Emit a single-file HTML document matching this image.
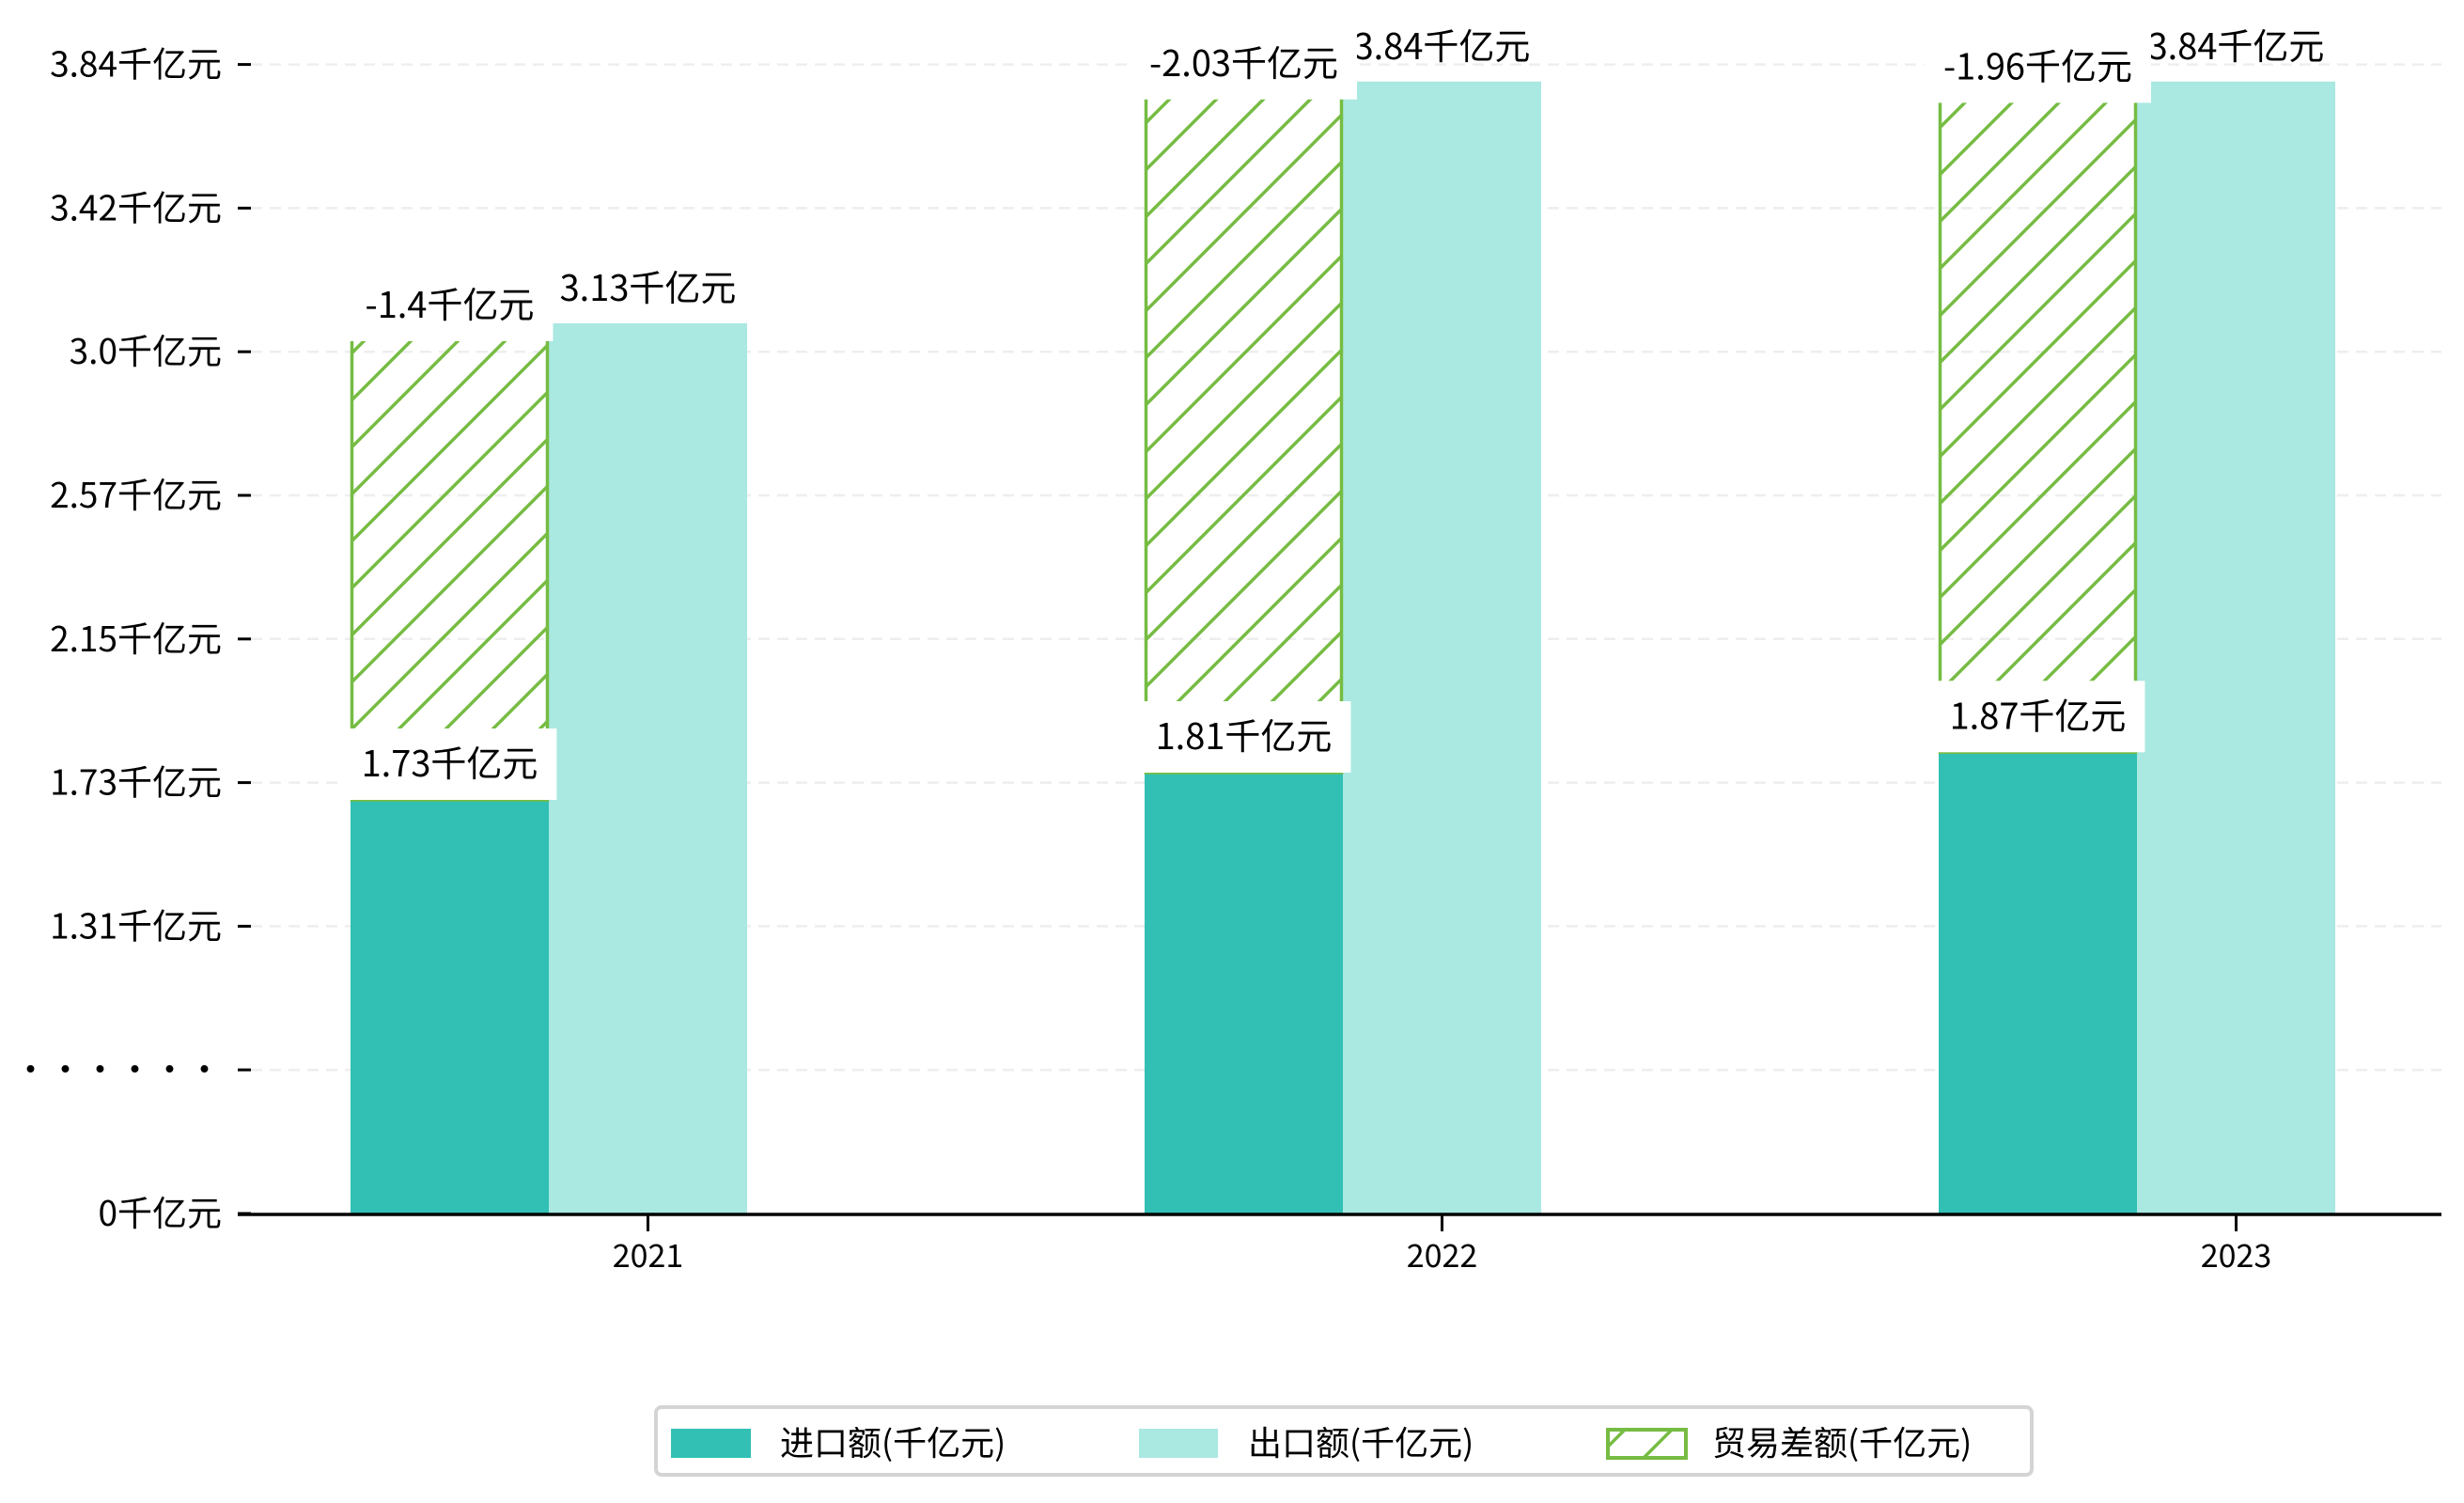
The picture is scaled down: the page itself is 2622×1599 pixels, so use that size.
<!DOCTYPE html>
<html><head><meta charset="utf-8">
<style>
html,body{margin:0;padding:0;background:#fff;}
svg{display:block;font-family:"WenQuanYi Zen Hei","Noto Sans CJK SC",sans-serif;}
</style></head>
<body>
<svg id="chart" width="2622" height="1599" viewBox="0 0 2622 1599" xmlns="http://www.w3.org/2000/svg">
<defs>
<pattern id="hatch" patternUnits="userSpaceOnUse" width="50" height="50" patternTransform="rotate(0)">
<path d="M-5,5 L5,-5 M0,50 L50,0 M45,55 L55,45" stroke="#76bc43" stroke-width="3.5"/>
</pattern>
</defs>
<g id="grid"></g>
<g id="bars"></g>
<g id="labels"></g>
<g id="axes"></g>
<g id="legend">
<rect x="698" y="1497" width="1464" height="72" rx="6" fill="#fff" stroke="#d4d4d4" stroke-width="4"/>
<rect x="714" y="1520" width="85" height="31" fill="#31c0b3"/>
<text x="830" y="1548" font-size="36">进口额(千亿元)</text>
<rect x="1212" y="1520" width="84" height="31" fill="#aae8e2"/>
<text x="1328" y="1548" font-size="36">出口额(千亿元)</text>
<rect x="1711" y="1521" width="83" height="30" fill="url(#hatch)" stroke="#76bc43" stroke-width="4"/>
<text x="1822" y="1548" font-size="36">贸易差额(千亿元)</text>
</g>
</svg>
<script>
const categories = ["2021","2022","2023"];
const importVals = [1.73,1.81,1.87];
const exportVals = [3.13,3.84,3.84];
const balanceVals = [-1.4,-2.03,-1.96];
const yTickLabels = ["3.84千亿元","3.42千亿元","3.0千亿元","2.57千亿元","2.15千亿元","1.73千亿元","1.31千亿元","·········","0千亿元"];

const NS="http://www.w3.org/2000/svg";
function mk(tag,attrs,parent){const e=document.createElementNS(NS,tag);for(const k in attrs)e.setAttribute(k,attrs[k]);parent.appendChild(e);return e;}
const axisY=1292, plotLeft=253, plotRight=2598;
function y(v){return Math.min(axisY, 851-(v-1.73)*362.2);}
const barW=211, groupStep=845, groupX0=373;
function gx(i){return groupX0+i*groupStep;}
function tickY(i){return 68.6+i*152.8;}

const grid=document.getElementById('grid'), bars=document.getElementById('bars'), labels=document.getElementById('labels'), axes=document.getElementById('axes');

yTickLabels.forEach((t,i)=>{
  const yy=tickY(i);
  if(i<yTickLabels.length-1){
    const g=mk('line',{x1:267,x2:plotRight,y1:yy,y2:yy,stroke:'#eeeeee','stroke-width':2.5,'stroke-dasharray':'12,8'},grid);
    
    
  }
  const tk=mk('line',{x1:253,x2:267,y1:yy,y2:yy,stroke:'#000','stroke-width':3},axes);
  
  
  const tx=mk('text',{x:236,y:yy+13,'text-anchor':'end','font-size':37},axes);
  
  
  tx.textContent=t;
});

function labelBox(cx,cyText,txt,withBox,name){
  const g=mk('g',{},labels);
  
  
  const r=withBox?mk('rect',{fill:'#fff'},g):null;
  const t=mk('text',{x:cx,y:cyText+13,'text-anchor':'middle','font-size':38},g);
  t.textContent=txt;
  if(r){const w=t.getComputedTextLength()+40;r.setAttribute('x',cx-w/2);r.setAttribute('y',cyText-38);r.setAttribute('width',w);r.setAttribute('height',76);}
}

categories.forEach((c,i)=>{
  const x0=gx(i);
  const yi=y(importVals[i]), ye=y(exportVals[i]);
  const yb=y(importVals[i]+Math.abs(balanceVals[i]));
  const b1=mk('rect',{x:x0,y:yi,width:barW,height:axisY-yi,fill:'#31c0b3'},bars);
  
  
  const b2=mk('rect',{x:x0+barW,y:ye,width:barW,height:axisY-ye,fill:'#aae8e2'},bars);
  
  
  const b3=mk('rect',{x:x0+1.5,y:yb,width:barW-3,height:yi-yb,fill:'url(#hatch)',stroke:'#76bc43','stroke-width':3.5},bars);
  
  
  labelBox(x0+barW*1.5,ye-37,exportVals[i]+'千亿元',false,'export-value-label');
  labelBox(x0+barW/2,yb-19,balanceVals[i]+'千亿元',true,'balance-value-label');
  labelBox(x0+barW/2,yi-38,importVals[i]+'千亿元',true,'import-value-label');
  const tk=mk('line',{x1:x0+barW*1.5,x2:x0+barW*1.5,y1:axisY,y2:axisY+18,stroke:'#000','stroke-width':3},axes);
  
  
  const tl=mk('text',{x:x0+barW*1.5,y:axisY+56,'text-anchor':'middle','font-size':34},axes);
  
  
  tl.textContent=c;
});
const ax=mk('line',{x1:plotLeft,x2:plotRight,y1:axisY,y2:axisY,stroke:'#000','stroke-width':3.5},axes);


</script>
</body></html>
